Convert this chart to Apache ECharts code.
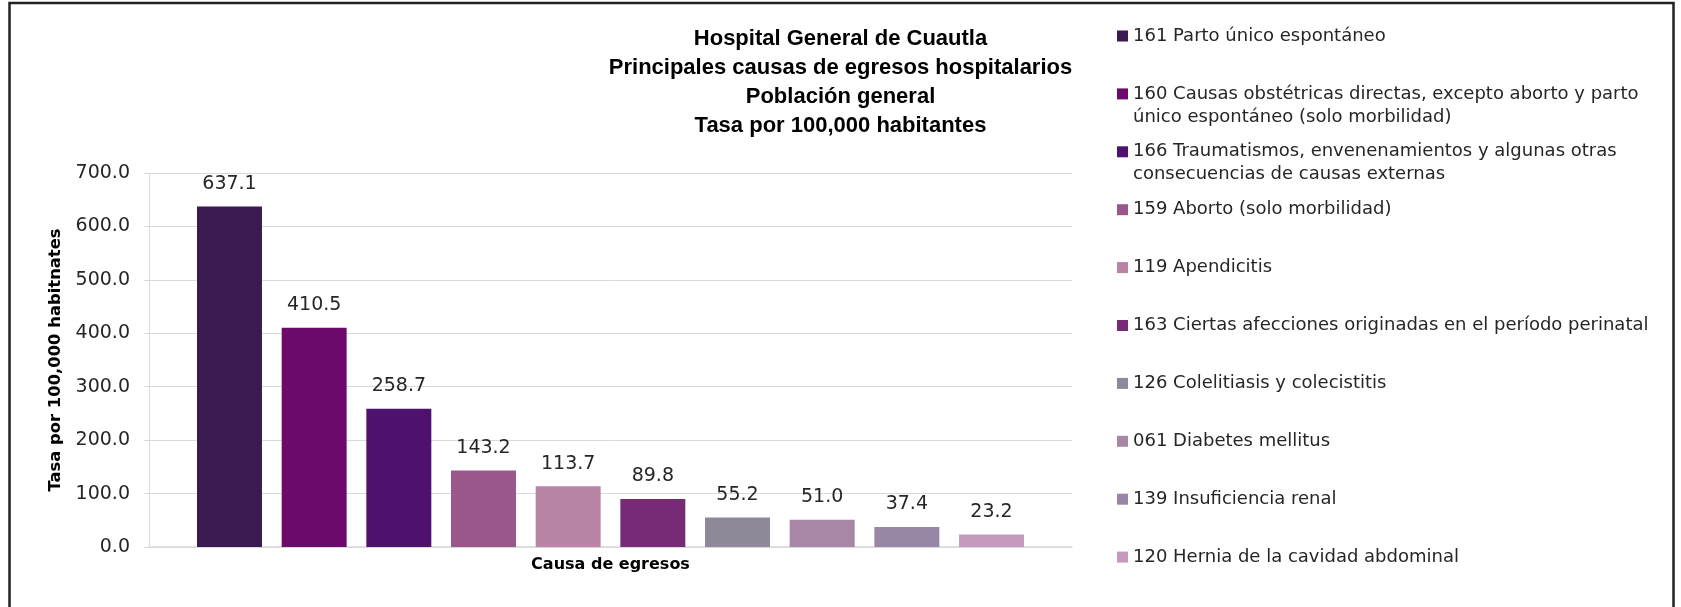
<!DOCTYPE html>
<html>
<head>
<meta charset="utf-8">
<title>Hospital General de Cuautla</title>
<script src="https://cdn.jsdelivr.net/npm/echarts@6/dist/echarts.min.js"></script>
<style>
  html, body { margin: 0; padding: 0; background: #fff; }
  #chart { width: 1681px; height: 607px; }
</style>
</head>
<body>
<div id="chart"></div>
<script>
// causas (legend text, \n marks the wrap used in the legend)
const causes = [
  '161 Parto único espontáneo',
  '160 Causas obstétricas directas, excepto aborto y parto\núnico espontáneo (solo morbilidad)',
  '166 Traumatismos, envenenamientos y algunas otras\nconsecuencias de causas externas',
  '159 Aborto (solo morbilidad)',
  '119 Apendicitis',
  '163 Ciertas afecciones originadas en el período perinatal',
  '126 Colelitiasis y colecistitis',
  '061 Diabetes mellitus',
  '139 Insuficiencia renal',
  '120 Hernia de la cavidad abdominal'
]
const rates = [637.1, 410.5, 258.7, 143.2, 113.7, 89.8, 55.2, 51.0, 37.4, 23.2]
const categories = ['Causa de egresos']
const yTicks = [0, 100, 200, 300, 400, 500, 600, 700]
const colors = ['#3b1a52', '#6b0a6a', '#4e116d', '#9a578b', '#b984a6', '#772a76', '#8e8898', '#a886a5', '#9886a6', '#c49bbd']

const names = causes.map(c => c.replace('\n', ' '))
const FONT = 'DejaVu Sans'

const chart = echarts.init(document.getElementById('chart'))

// one legend per entry so every row keeps the same step like the original
const legends = causes.map(function(c, i) {
  const twoLines = c.indexOf('\n') >= 0
  const center = 36 + 57.9 * i
  return {
    data: [names[i]],
    orient: 'vertical',
    left: 1117,
    // wrapped entries get an empty first line so the icon sits on line one
    top: twoLines ? center - 34.5 : center - 11.5,
    padding: 0,
    icon: 'rect',
    itemWidth: 11,
    itemHeight: 11,
    selectedMode: false,
    formatter: function() { return twoLines ? ' \n' + c : c },
    textStyle: {
      fontFamily: FONT,
      fontSize: 18,
      lineHeight: 23,
      color: '#262626'
    }
  }
})

chart.setOption({
  backgroundColor: '#fff',
  animation: false,
  color: colors,
  title: {
    text: 'Hospital General de Cuautla\nPrincipales causas de egresos hospitalarios\nPoblación general\nTasa por 100,000 habitantes',
    left: 'center',
    top: 24,
    padding: 0,
    textStyle: {
      fontFamily: 'Liberation Sans',
      fontSize: 22,
      fontWeight: 'bold',
      lineHeight: 29,
      color: '#000'
    }
  },
  legend: legends,
  grid: {
    left: 149,
    right: 609,
    top: 173,
    bottom: 60,
    containLabel: false,
    outerBoundsMode: 'none'
  },
  xAxis: {
    type: 'category',
    data: categories,
    axisTick: { show: false },
    axisLine: { lineStyle: { color: '#d9d9d9', width: 1.5 } },
    axisLabel: {
      margin: 10,
      fontFamily: FONT,
      fontSize: 16,
      fontWeight: 'bold',
      color: '#000'
    }
  },
  yAxis: {
    type: 'value',
    min: yTicks[0],
    max: yTicks[yTicks.length - 1],
    interval: yTicks[1] - yTicks[0],
    name: 'Tasa por 100,000 habitnates',
    nameLocation: 'middle',
    nameGap: 85,
    nameTextStyle: {
      fontFamily: FONT,
      fontSize: 16.4,
      fontWeight: 'bold',
      color: '#000'
    },
    axisLine: { show: true, lineStyle: { color: '#d9d9d9' } },
    axisTick: { show: true, length: 5, lineStyle: { color: '#d9d9d9' } },
    splitLine: { lineStyle: { color: '#d9d9d9' } },
    axisLabel: {
      margin: 19,
      fontFamily: FONT,
      fontSize: 19,
      color: '#262626',
      formatter: function(v) { return v.toFixed(1) }
    }
  },
  series: rates.map(function(v, i) {
    return {
      name: names[i],
      type: 'bar',
      data: [v],
      barGap: '30.3%',
      barCategoryGap: '10.4%',
      itemStyle: { color: colors[i] },
      label: {
        show: true,
        position: 'top',
        distance: 13,
        fontFamily: FONT,
        fontSize: 19,
        color: '#262626',
        formatter: function(p) { return p.value.toFixed(1) }
      }
    }
  }),
  graphic: [{
    type: 'rect',
    silent: true,
    shape: { x: 9.5, y: 3, width: 1664, height: 640 },
    style: { fill: 'none', stroke: '#222', lineWidth: 2.5 }
  }]
})
</script>
</body>
</html>
